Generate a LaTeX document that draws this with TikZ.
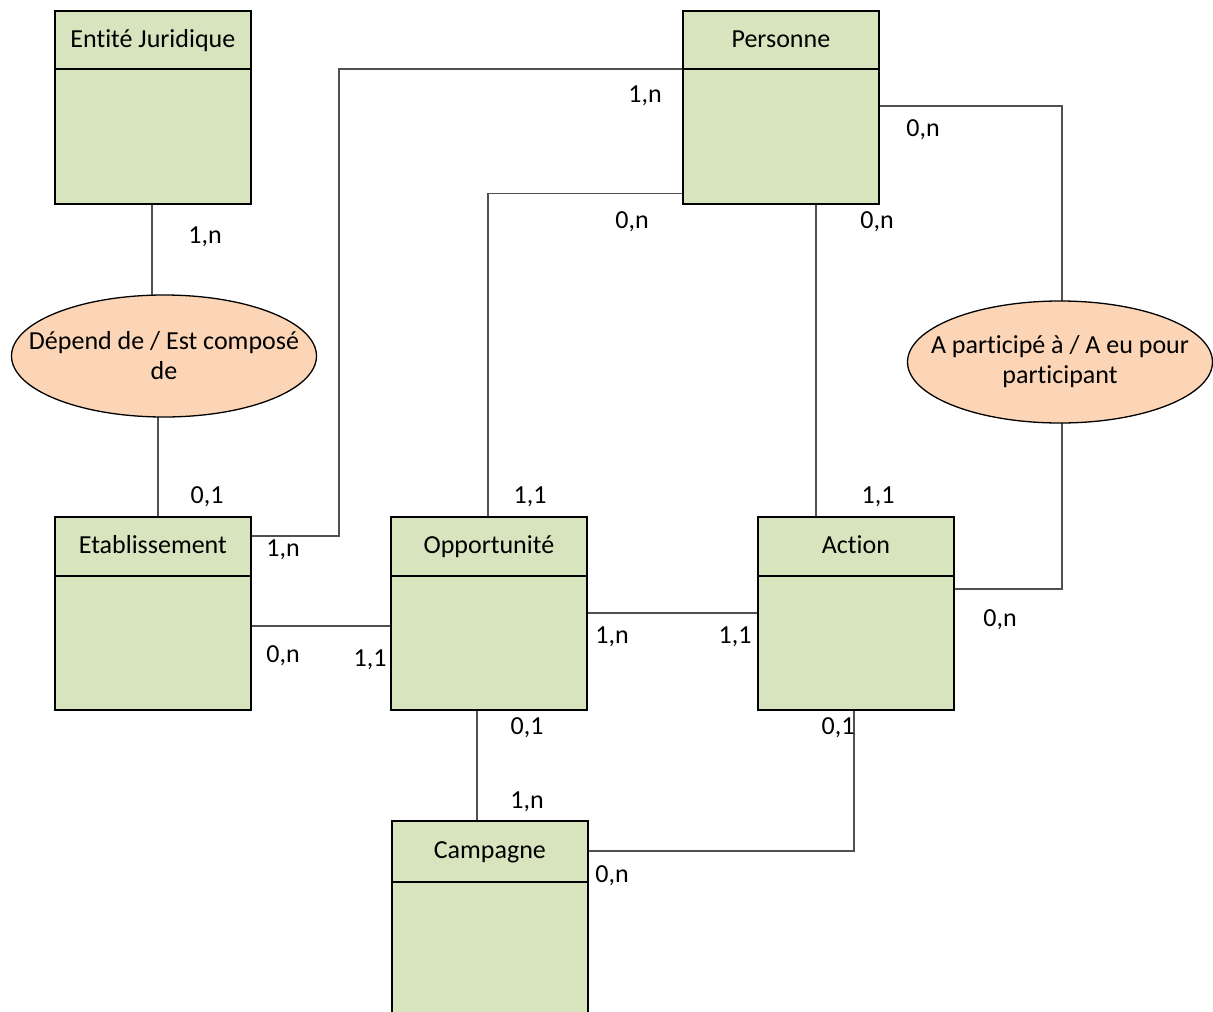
\documentclass[tikz,border=0pt]{standalone}
\usepackage{fontspec}
\setmainfont{Carlito}[Ligatures=NoCommon]
\usetikzlibrary{calc,shapes.geometric}
\pgfdeclarelayer{bg}
\pgfsetlayers{bg,main}
\definecolor{entfill}{HTML}{D7E4BD}
\definecolor{relfill}{HTML}{FBD5B5}
\definecolor{conn}{HTML}{505050}
\tikzset{
  entity/.style={draw=black, line width=1.8pt, fill=entfill, rectangle, minimum width=196pt, minimum height=193pt, anchor=north west, inner sep=0pt},
  etitle/.style={font=\fontsize{26}{30}\selectfont, inner sep=0pt, anchor=base},
  rel/.style={draw=black, line width=1.3pt, fill=relfill, ellipse, inner sep=0pt},
  reltext/.style={align=center, inner sep=0pt, font=\fontsize{26}{30}\selectfont},
  card/.style={font=\fontsize{26}{30}\selectfont, inner sep=0pt},
  link/.style={draw=conn, line width=1.2pt},
}
\newcommand{\entbox}[4]{%
  \node[entity] (#1) at (#2) {};
  \node[etitle] (#1t) at ($(#1.north)+(0,37)$) {#3};
  \draw[line width=1.8pt] ($(#1.north west)+(0,#4)$) -- ($(#1.north east)+(0,#4)$);
}
\begin{document}
\begin{tikzpicture}[x=1pt,y=-1pt]
\clip (0,0) rectangle (1213,1012);

\entbox{ej}{54,10}{Entité Juridique}{59}
\entbox{pers}{682,10}{Personne}{59}
\entbox{etab}{54,516}{Etablissement}{60}
\entbox{opp}{390,516}{Opportunité}{60}
\entbox{act}{757,516}{Action}{60}
\node[entity, minimum height=230pt] (camp) at (391,820) {};
\node[etitle] (campt) at ($(camp.north)+(0,38)$) {Campagne};
\draw[line width=1.8pt] ($(camp.north west)+(0,62)$) -- ($(camp.north east)+(0,62)$);

\node[rel, minimum width=305pt, minimum height=122pt] (r1) at (164,356) {};
\node[reltext] (r1t) at (r1.center) {Dépend de / Est composé\\de};
\node[rel, minimum width=305pt, minimum height=122pt] (r2) at (1060,362) {};
\node[reltext] (r2t) at (r2.center) {A participé à / A eu pour\\participant};

\coordinate (k1) at (339,69);
\coordinate (xpa) at (816,0);

\begin{pgfonlayer}{bg}
\fill[white] (0,0) rectangle (1213,1012);
\draw[link] (ej.south -| 152,0) -- (r1.center -| 152,0);
\draw[link] (r1.center -| 158,0) -- (etab.north -| 158,0);
\draw[link] ($(etab.north east)+(0,20)$) -| (k1) -- ($(pers.north west)+(0,59)$);
\draw[link] ($(pers.south west)+(0,-11)$) -| ($(opp.north)+(-1,0)$);
\draw[link] (pers.south -| xpa) -- (act.north -| xpa);
\draw[link] ($(pers.north east)+(0,96)$) -| (r2.center -| 1062,0);
\draw[link] (r2.center -| 1062,0) |- ($(act.north east)+(0,73)$);
\draw[link] ($(etab.north east)+(0,110)$) -- ($(opp.north west)+(0,110)$);
\draw[link] ($(opp.north east)+(0,97)$) -- ($(act.north west)+(0,97)$);
\draw[link] ($(opp.south)+(-12,0)$) -- ($(camp.north)+(-13,0)$);
\draw[link] ($(camp.north east)+(0,31)$) -| (act.south -| 854,0);
\end{pgfonlayer}

\node[card] (c1) at (205,237) {1,n};
\node[card] (c2) at (207,497) {0,1};
\node[card] (c3) at (283,550) {1,n};
\node[card] (c4) at (645,96) {1,n};
\node[card] (c5) at (632,222) {0,n};
\node[card] (c6) at (877,222) {0,n};
\node[card] (c7) at (923,130) {0,n};
\node[card] (c8) at (530,497) {1,1};
\node[card] (c9) at (878,497) {1,1};
\node[card] (c10) at (1000,620) {0,n};
\node[card] (c11) at (283,656) {0,n};
\node[card] (c12) at (370,660) {1,1};
\node[card] (c13) at (612,637) {1,n};
\node[card] (c14) at (735,637) {1,1};
\node[card] (c15) at (527,728) {0,1};
\node[card] (c16) at (838,728) {0,1};
\node[card] (c17) at (527,802) {1,n};
\node[card] (c18) at (612,876) {0,n};
\end{tikzpicture}
\end{document}
